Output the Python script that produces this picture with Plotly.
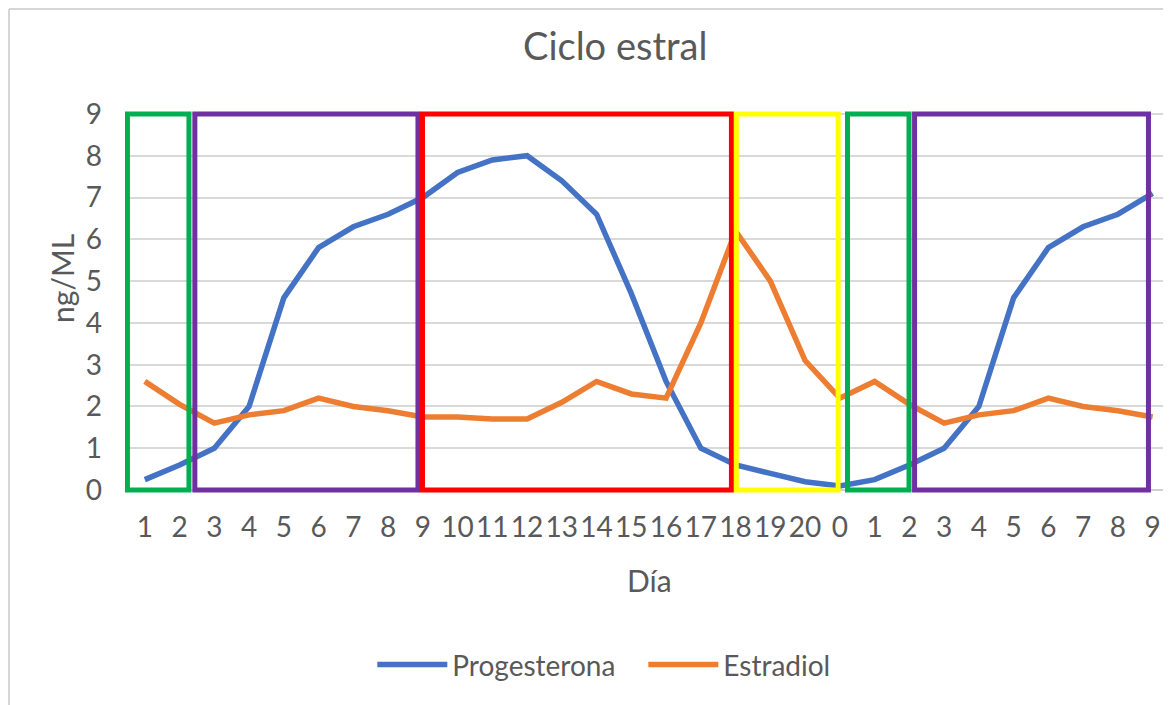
import plotly.graph_objects as go

# day labels on the x axis (cycle restarts at 0)
dias = ["1", "2", "3", "4", "5", "6", "7", "8", "9", "10", "11", "12", "13", "14", "15",
        "16", "17", "18", "19", "20", "0", "1", "2", "3", "4", "5", "6", "7", "8", "9"]

progesterona = [0.25, 0.6, 1.0, 2.0, 4.6, 5.8, 6.3, 6.6, 7.0, 7.6, 7.9, 8.0, 7.4, 6.6, 4.7,
                2.6, 1.0, 0.6, 0.4, 0.2, 0.1, 0.25, 0.6, 1.0, 2.0, 4.6, 5.8, 6.3, 6.6, 7.1]

estradiol = [2.6, 2.05, 1.6, 1.8, 1.9, 2.2, 2.0, 1.9, 1.75, 1.75, 1.7, 1.7, 2.1, 2.6, 2.3,
             2.2, 4.0, 6.2, 5.0, 3.1, 2.2, 2.6, 2.05, 1.6, 1.8, 1.9, 2.2, 2.0, 1.9, 1.75]

# phase boxes drawn over the chart (start, end on the day index axis)
fases = [(-0.5, 1.27, "#00B050"),
         (1.44, 7.86, "#7030A0"),
         (7.99, 16.88, "#FF0000"),
         (17.02, 19.95, "#FFFF00"),
         (20.22, 21.99, "#00B050"),
         (22.15, 28.88, "#7030A0")]

FONT = "Lato"
GRIS = "#595959"

x = list(range(len(dias)))

fig = go.Figure()
fig.add_trace(go.Scatter(x=x, y=progesterona, mode="lines", name="Progesterona",
                         line=dict(color="#4472C4", width=5.5)))
fig.add_trace(go.Scatter(x=x, y=estradiol, mode="lines", name="Estradiol",
                         line=dict(color="#ED7D31", width=5.5)))

for x0, x1, color in fases:
    fig.add_shape(type="rect", xref="x", yref="y", x0=x0, x1=x1, y0=0, y1=9,
                  line=dict(color=color, width=5), fillcolor="rgba(0,0,0,0)", layer="above")

# thin frame of the original picture (top and left edges)
fig.add_shape(type="line", xref="paper", yref="paper", x0=-0.111, x1=1.01, y0=1.267, y1=1.267,
              line=dict(color="#c8c8c8", width=1.5))
fig.add_shape(type="line", xref="paper", yref="paper", x0=-0.111, x1=-0.111, y0=1.267, y1=-0.6,
              line=dict(color="#c8c8c8", width=1.5))

fig.add_annotation(text="Ciclo estral", xref="paper", yref="paper", x=0.469, y=1.173,
                   showarrow=False, font=dict(family=FONT, size=38, color=GRIS),
                   xanchor="center", yanchor="middle")
fig.add_annotation(text="ng/ML", xref="paper", yref="paper", x=-0.0603, y=0.563,
                   showarrow=False, textangle=-90, font=dict(family=FONT, size=30, color=GRIS),
                   xanchor="center", yanchor="middle")
fig.add_annotation(text="Día", xref="paper", yref="paper", x=0.502, y=-0.228,
                   showarrow=False, font=dict(family=FONT, size=30, color=GRIS),
                   xanchor="center", yanchor="middle")

fig.update_xaxes(range=[-0.57, 29.5], tickmode="array", tickvals=x, ticktext=dias,
                 showgrid=False, zeroline=False, showline=False, ticks="",
                 tickfont=dict(family=FONT, size=28, color=GRIS), ticklabelstandoff=15)
fig.update_yaxes(range=[-0.07, 9.07], tickvals=list(range(10)), showgrid=True,
                 gridcolor="#d9d9d9", gridwidth=1.5, zeroline=True, zerolinecolor="#d0d0d0",
                 zerolinewidth=1.5, showline=False, ticks="",
                 tickfont=dict(family=FONT, size=28, color=GRIS), ticklabelstandoff=22)

# the page body adds 8px around the plot, so the figure is 8px smaller
fig.update_layout(
    width=1163, height=697,
    margin=dict(l=117, r=1, t=103, b=212),
    paper_bgcolor="white", plot_bgcolor="white",
    showlegend=True,
    legend=dict(orientation="h", x=0.496, y=-0.45, xanchor="center", yanchor="middle",
                font=dict(family=FONT, size=28, color=GRIS), itemwidth=70,
                entrywidth=186, entrywidthmode="pixels",
                bgcolor="rgba(0,0,0,0)"),
)

fig.write_html("out.html")
